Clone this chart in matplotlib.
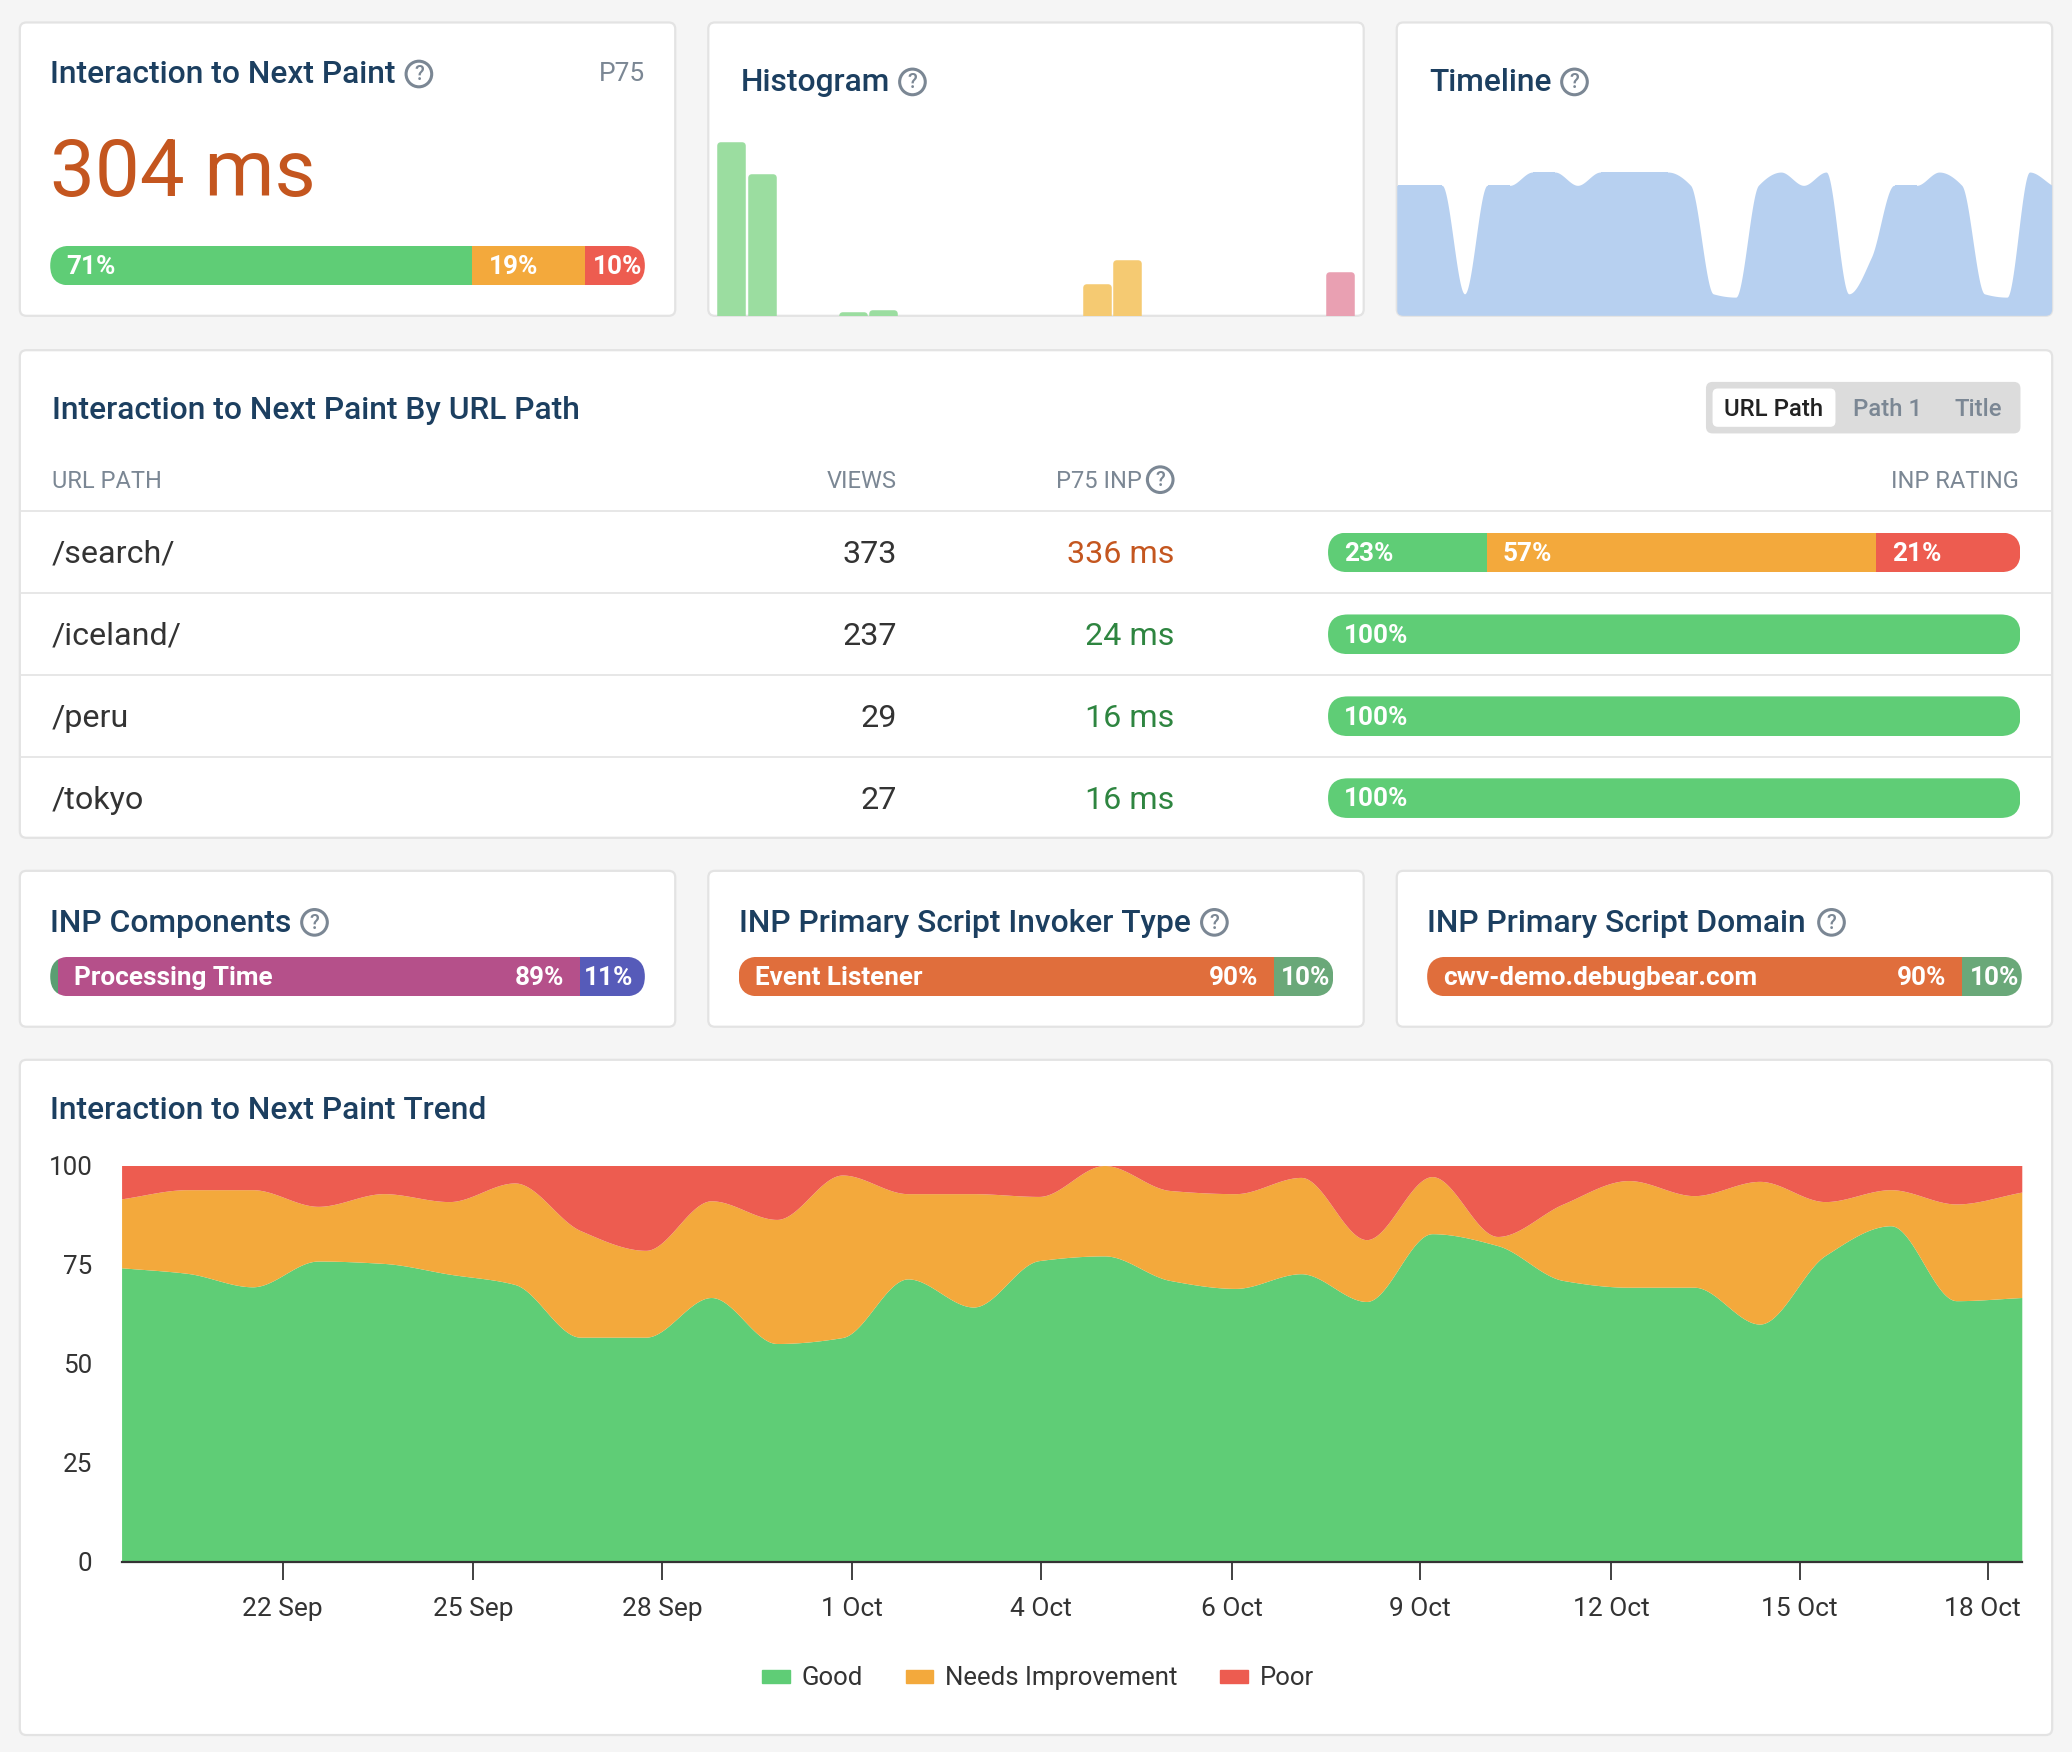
import numpy as np
import matplotlib
matplotlib.use('Agg')
import matplotlib.pyplot as plt
from matplotlib.patches import FancyBboxPatch, Circle, Patch
from matplotlib.transforms import ScaledTranslation

plt.rcParams['font.family'] = ['Roboto', 'DejaVu Sans']

# Trend data, one value per day
good = [74.2, 72.8, 69.4, 75.9, 75.3, 72.6, 70.0, 56.7, 56.7, 66.7, 55.1, 56.6, 71.4, 64.3, 76.0,
        77.2, 71.0, 69.0, 72.7, 65.7, 82.8, 79.8, 71.0, 69.3, 69.3, 60.0, 77.3, 84.8, 65.9, 66.7]
needs = [17.4, 21.1, 24.5, 13.8, 17.6, 18.3, 25.6, 26.9, 21.9, 24.4, 31.3, 41.0, 21.5, 28.6, 16.2,
         22.8, 22.7, 23.9, 24.3, 15.6, 14.4, 2.3, 19.3, 26.9, 23.1, 36.0, 13.6, 9.1, 24.4, 26.6]
poor = [8.4, 6.1, 6.1, 10.3, 7.1, 9.1, 4.4, 16.4, 21.4, 8.9, 13.6, 2.4, 7.1, 7.1, 7.8,
        0.0, 6.3, 7.1, 3.0, 18.7, 2.8, 17.9, 9.7, 3.8, 7.6, 4.0, 9.1, 6.1, 9.7, 6.7]
tick_days = [2.46, 5.36, 8.25, 11.15, 14.03, 16.94, 19.82, 22.73, 25.61, 28.49]
tick_labels = ['22 Sep', '25 Sep', '28 Sep', '1 Oct', '4 Oct', '6 Oct', '9 Oct', '12 Oct', '15 Oct', '18 Oct']
y_ticks = [0, 25, 50, 75, 100]

# Sparkline cards
hist_values = [100, 81.6, 0, 0, 2.3, 3.4, 0, 0, 0, 0, 0, 0, 18.4, 32.4, 0, 0, 0, 0, 0, 0, 25.5]
timeline = [90.8, 90.8, 90.8, 15.7, 90.8, 90.8, 100, 100, 90.8, 100, 100, 100, 100, 90.8, 15.7,
            13.4, 90.8, 100, 90.8, 100, 15.7, 41, 90.8, 90.8, 100, 90.8, 15.7, 13.4, 100, 90.8]

# Table
paths = ['/search/', '/iceland/', '/peru', '/tokyo']
views = [373, 237, 29, 27]
inp_ms = ['336 ms', '24 ms', '16 ms', '16 ms']
inp_good = [22.9, 100, 100, 100]
inp_needs = [56.3, 0, 0, 0]
inp_poor = [20.8, 0, 0, 0]

# Summary bars
overall = [71, 19, 10]
components = [1.3, 87.8, 10.9]
invoker = [90, 10]
domain = [90, 10]

GREEN = '#5fcd76'
ORANGE = '#f3a93c'
RED = '#ed5c50'
NAVY = '#1c3f60'
GRAY = '#7b8794'
DARK = '#333333'
SLOW = '#c4561f'
FAST = '#2e8540'

# all layout numbers below are in a 1568 wide space, scaled to the 2072 px output
W, H = 1568, 1752 * 1568 / 2072

fig = plt.figure(figsize=(20.72, 17.52), dpi=100, facecolor='#f5f5f5')


def axes_at(x0, y0, x1, y1, z=1):
    ax = fig.add_axes([x0 / W, 1 - y1 / H, (x1 - x0) / W, (y1 - y0) / H], zorder=z)
    ax.patch.set_alpha(0)
    return ax


bg = axes_at(0, 0, W, H, 0)
bg.set_xlim(0, W)
bg.set_ylim(H, 0)
bg.axis('off')
fg = axes_at(0, 0, W, H, 5)
fg.set_xlim(0, W)
fg.set_ylim(H, 0)
fg.axis('off')


def card(x0, y0, x1, y1):
    p = FancyBboxPatch((x0, y0), x1 - x0, y1 - y0, boxstyle='round,pad=0,rounding_size=5',
                       fc='white', ec='#e3e3e3', lw=1.6)
    bg.add_patch(p)
    return p


def title(x, y, s, icon_x=None):
    fg.text(x, y + 1.5, s, color=NAVY, fontsize=22.9, fontweight='medium', va='center', ha='left')
    if icon_x is not None:
        help_icon(icon_x, y + 1)


def help_icon(x, y):
    fg.add_patch(Circle((x, y), 9.7, fc='none', ec=GRAY, lw=2.2))
    fg.text(x, y + 0.5, '?', color=GRAY, fontsize=14.5, fontweight='medium', ha='center', va='center')


def smooth(y, n=40):
    # monotone cubic through the daily values, same look as the original curve
    y = np.asarray(y, dtype=float)
    d = np.diff(y)
    m = np.zeros(len(y))
    for i in range(1, len(y) - 1):
        if d[i - 1] * d[i] > 0:
            m[i] = 2 * d[i - 1] * d[i] / (d[i - 1] + d[i])
    m[0], m[-1] = d[0], d[-1]
    xs, ys = [], []
    for i in range(len(y) - 1):
        t = np.linspace(0, 1, n, endpoint=False)
        ys.append((2 * t**3 - 3 * t**2 + 1) * y[i] + (t**3 - 2 * t**2 + t) * m[i]
                  + (-2 * t**3 + 3 * t**2) * y[i + 1] + (t**3 - t**2) * m[i + 1])
        xs.append(i + t)
    return np.append(np.concatenate(xs), len(y) - 1), np.append(np.concatenate(ys), y[-1])


def pill(x0, y0, x1, y1, values, colors):
    ax = axes_at(x0, y0, x1, y1)
    ax.set_xlim(0, 100)
    ax.set_ylim(0, 1)
    ax.axis('off')
    clip = FancyBboxPatch((x0, y0), x1 - x0, y1 - y0, boxstyle='round,pad=0,rounding_size=%g' % ((y1 - y0) / 2),
                          transform=bg.transData)
    left = 0
    for v, c in zip(values, colors):
        if v > 0:
            bar = ax.barh(0.5, v, left=left, height=1, color=c, lw=0)[0]
            bar.set_clip_path(clip)
        left += v


def bar_label(x, y, s, ha='left'):
    fg.text(x, y + 1, s, color='white', fontsize=18.8, fontweight='bold', ha=ha, va='center')


# Top row
c1 = card(15, 17, 511, 239)
c2 = card(536, 17, 1032, 239)
c3 = card(1057, 17, 1553, 239)

title(38, 55, 'Interaction to Next Paint', 317)
fg.text(488, 56, 'P75', color=GRAY, fontsize=19, ha='right', va='center')
fg.text(38, 132, '304 ms', color=SLOW, fontsize=57.5, ha='left', va='center')
pill(38, 186, 488, 216, overall, [GREEN, ORANGE, RED])
bar_label(50, 201, '71%')
bar_label(370, 201, '19%')
bar_label(449, 201, '10%')

title(560.5, 61, 'Histogram', 690.5)
ax = axes_at(536, 107.5, 1032, 239)
ax.set_xlim(-0.75, 20.77)
ax.set_ylim(0, 100)
ax.axis('off')
hist_x = np.arange(len(hist_values))
hist_colors = ['#9bdda0'] * 8 + ['#f5ca72'] * 8 + ['#e9a0b2'] * 5
for i, v in zip(hist_x, hist_values):
    if v > 0:
        # thick edge with round joins gives the rounded top of the bars
        b = ax.bar(i, v - 1.9, width=0.72, color=hist_colors[i], edgecolor=hist_colors[i], lw=4.7)[0]
        b.set_joinstyle('round')

title(1081.5, 61, 'Timeline', 1191.5)
ax = axes_at(1057, 130.2, 1553, 239.5)
ax.set_xlim(0, 29)
ax.set_ylim(0, 100)
ax.axis('off')
tx, ty = smooth(timeline)
poly = ax.fill_between(tx, 0, ty, color='#b7d0f0', lw=0)
poly.set_clip_path(c3)

# URL path table
card(15, 265, 1553, 634)
title(39, 309, 'Interaction to Next Paint By URL Path')
bg.add_patch(FancyBboxPatch((1291, 289), 238, 39, boxstyle='round,pad=0,rounding_size=5', fc='#dcdcdc', ec='none'))
bg.add_patch(FancyBboxPatch((1296, 294), 93, 29, boxstyle='round,pad=0,rounding_size=4', fc='white', ec='none'))
fg.text(1342, 310, 'URL Path', color='#222222', fontsize=17.2, fontweight='medium', ha='center', va='center')
fg.text(1428.5, 310, 'Path 1', color=GRAY, fontsize=17.2, fontweight='medium', ha='center', va='center')
fg.text(1497, 310, 'Title', color=GRAY, fontsize=17.2, fontweight='medium', ha='center', va='center')

for x, s, ha in [(39, 'URL PATH', 'left'), (678.5, 'VIEWS', 'right'), (864, 'P75 INP', 'right'), (1528, 'INP RATING', 'right')]:
    fg.text(x, 364, s, color=GRAY, fontsize=17, ha=ha, va='center')
help_icon(878, 363)

for y in [387, 449, 511, 573]:
    bg.plot([15, 1553], [y, y], color='#e5e5e5', lw=1.3)

for i in range(len(paths)):
    y = 418 + 62 * i
    fg.text(39, y + 1.5, paths[i], color=DARK, fontsize=23.2, ha='left', va='center')
    fg.text(678.7, y + 1.5, str(views[i]), color=DARK, fontsize=23.2, ha='right', va='center')
    fg.text(888.5, y + 1.5, inp_ms[i], color=SLOW if i == 0 else FAST, fontsize=23.2, ha='right', va='center')
    pill(1005, y - 15, 1529, y + 15, [inp_good[i], inp_needs[i], inp_poor[i]], [GREEN, ORANGE, RED])
    bar_label(1017, y, '23%' if i == 0 else '100%')
bar_label(1137, 418, '57%')
bar_label(1432, 418, '21%')

# Third row
card(15, 659, 511, 777)
title(38, 697, 'INP Components', 238)
pill(38, 724, 488, 754, components, ['#5b9e72', '#b5508a', '#565bb9'])
bar_label(56, 739, 'Processing Time')
bar_label(427, 739, '89%', 'right')
bar_label(442, 739, '11%')

card(536, 659, 1032, 777)
title(559, 697, 'INP Primary Script Invoker Type', 919)
pill(559, 724, 1009, 754, invoker, ['#e06e3c', '#6aa879'])
bar_label(571, 739, 'Event Listener')
bar_label(952, 739, '90%', 'right')
bar_label(969, 739, '10%')

card(1057, 659, 1553, 777)
title(1080, 697, 'INP Primary Script Domain', 1386)
pill(1080, 724, 1530, 754, domain, ['#e06e3c', '#6aa879'])
bar_label(1092, 739, 'cwv-demo.debugbear.com')
bar_label(1473, 739, '90%', 'right')
bar_label(1491, 739, '10%')

# Trend chart
card(15, 802, 1553, 1313)
title(38, 839, 'Interaction to Next Paint Trend')
ax = axes_at(92, 882, 1530, 1182)
x, g_line = smooth(good)
_, n_line = smooth(np.add(good, needs))
_, p_line = smooth(np.add(np.add(good, needs), poor))
ax.fill_between(x, 0, g_line, color=GREEN, lw=0)
ax.fill_between(x, g_line, n_line, color=ORANGE, lw=0)
ax.fill_between(x, n_line, p_line, color=RED, lw=0)
ax.set_xlim(0, 29)
ax.set_ylim(0, 100)
for s in ['top', 'left', 'right']:
    ax.spines[s].set_visible(False)
ax.spines['bottom'].set_color(DARK)
ax.spines['bottom'].set_linewidth(1.6)
ax.set_yticks(y_ticks)
ax.tick_params(axis='y', length=0, pad=21, labelsize=18.7, labelcolor=DARK)
ax.set_xticks(tick_days)
ax.set_xticklabels(tick_labels)
ax.tick_params(axis='x', length=13, width=1.3, color=DARK, pad=12, labelsize=19, labelcolor=DARK)
# the last label is pushed left in the original so it ends at the plot edge
last = ax.get_xticklabels()[-1]
last.set_transform(last.get_transform() + ScaledTranslation(-0.055, 0, fig.dpi_scale_trans))

handles = [Patch(color=GREEN, label='Good'), Patch(color=ORANGE, label='Needs Improvement'), Patch(color=RED, label='Poor')]
fig.legend(handles=handles, loc='center', bbox_to_anchor=(785.5 / W, 1 - 1270 / H), ncol=3, frameon=False,
           fontsize=18.5, labelcolor=DARK, handlelength=1.08, handleheight=0.4, handletextpad=0.46, columnspacing=1.65)

fig.savefig('out.png', dpi=100, facecolor=fig.get_facecolor())
